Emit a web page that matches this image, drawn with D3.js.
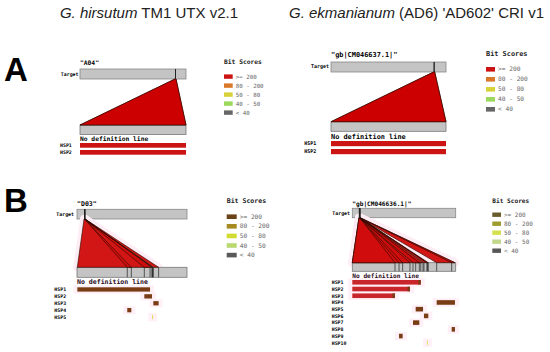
<!DOCTYPE html>
<html>
<head>
<meta charset="utf-8">
<script src="https://cdn.jsdelivr.net/npm/d3@7"></script>
<style>
  body { margin: 0; background: #fff; }
  svg { display: block; }
  .mono { font-family: "DejaVu Sans Mono", monospace; }
</style>
</head>
<body>
<div id="chart"></div>
<script>
// Set up conventions
let width = 550;
let height = 352;

// Titles, panel letters and hit names
let titles = ["G. hirsutum TM1 UTX v2.1", "G. ekmanianum (AD6) 'AD602' CRI v1"];
let letters = ["A", "B"];
let hitNames = ['"A04"', '"gb|CM046637.1|"', '"D03"', '"gb|CM046636.1|"'];

// Legend
let legendTitle = "Bit Scores";
let legendLabels = [">= 200", "80 - 200", "50 - 80", "40 - 50", "< 40"];
let colorsA1 = ["#cc1414", "#da782a", "#d8d23a", "#9cd85c", "#666666"];
let colorsA2 = ["#cc1414", "#da782a", "#d8d23a", "#9cd85c", "#666666"];
let colorsB1 = ["#6a4218", "#a68a22", "#d2dc30", "#b9d870", "#5a5a5a"];
let colorsB2 = ["#6a5a2c", "#9e9c2e", "#d6e04e", "#c2d98c", "#575757"];

// HSPs: query range (q0-q1) and target range (t0-t1), both in % of length; cls = bit score class
let hspsA1 = [
    {q0: 0, q1: 100, t0: 89.6, t1: 90.6, cls: 0},
    {q0: 0, q1: 100, t0: 89.6, t1: 90.6, cls: 0}
];
let hspsA2 = [
    {q0: 0, q1: 100, t0: 89.2, t1: 90.2, cls: 0},
    {q0: 0, q1: 100, t0: 89.2, t1: 90.2, cls: 0}
];
let hspsB1 = [
    {q0: 0.3, q1: 66.4, t0: 6.4, t1: 7.3, cls: 0},
    {q0: 61.2, q1: 68.2, t0: 6.8, t1: 7.3, cls: 0},
    {q0: 69.4, q1: 74.2, t0: 6.9, t1: 7.4, cls: 0},
    {q0: 45.7, q1: 49.4, t0: 6.8, t1: 7.1, cls: 0},
    {q0: 68.4, q1: 68.8, t0: 7.0, t1: 7.1, cls: 2}
];
let hspsB2 = [
    {q0: 0, q1: 66.2, t0: 6.5, t1: 7.4, cls: 0, red: true},
    {q0: 0, q1: 55.8, t0: 6.5, t1: 7.3, cls: 0, red: true},
    {q0: 0, q1: 41.3, t0: 6.5, t1: 7.2, cls: 0, red: true},
    {q0: 81.6, q1: 99.3, t0: 6.9, t1: 7.6, cls: 0},
    {q0: 61.3, q1: 68.4, t0: 6.9, t1: 7.3, cls: 0},
    {q0: 69.3, q1: 73.5, t0: 7.0, t1: 7.3, cls: 0},
    {q0: 58.7, q1: 64.8, t0: 6.9, t1: 7.2, cls: 0},
    {q0: 96.1, q1: 99.3, t0: 7.2, t1: 7.5, cls: 0},
    {q0: 45.2, q1: 48.7, t0: 6.8, t1: 7.1, cls: 0},
    {q0: 72.2, q1: 72.6, t0: 7.1, t1: 7.2, cls: 2}
];

let svg = d3.select("#chart")
    .append("svg")
    .attr("width", width)
    .attr("height", height)

svg.append("rect").attr("width", width).attr("height", height).attr("fill", "#fff")

// Column titles
let titleX = [149, 416.5]
titles.forEach((t, i) => {
    let parts = t.split(" ")
    let txt = svg.append("text")
        .attr("x", titleX[i])
        .attr("y", 18)
        .attr("text-anchor", "middle")
        .style("font-family", "Liberation Sans, Arial, sans-serif")
        .style("font-size", "15px")
        .attr("fill", "#222")
    txt.append("tspan").style("font-style", "italic").text(parts[0] + " " + parts[1])
    txt.append("tspan").text(" " + parts.slice(2).join(" "))
})

// Row letters
let letterY = [81, 212]
letters.forEach((l, i) => {
    svg.append("text")
        .attr("x", 4)
        .attr("y", letterY[i])
        .style("font-family", "Liberation Sans, Arial, sans-serif")
        .style("font-weight", "bold")
        .style("font-size", "33px")
        .attr("fill", "#000")
        .text(l)
})

// Panel layouts
let panels = [
    {hsps: hspsA1, colors: colorsA1, name: hitNames[0], x0: 80, x1: 186, ty: 69, th: 10, qy: 125, qh: 9.5,
     nameY: 65, tgtLabelX: 78.5, tgtLabelY: 76, noDefY: 140.6, rowY: 143, rowH: 4.7, rowStep: 7, hspLabelX: 60,
     legX: 224, legTitleY: 64, legY: 74.4, legStep: 9, swW: 8.7, swH: 4.4, fs: 6.3, lfs: 5.8, hfs: 4.9, halo: false, polyFill: "#cc0000", polyOpacity: 1},
    {hsps: hspsA2, colors: colorsA2, name: hitNames[1], x0: 331, x1: 446, ty: 62, th: 10, qy: 121.7, qh: 9.6,
     nameY: 57.3, tgtLabelX: 329, tgtLabelY: 68, noDefY: 139, rowY: 141, rowH: 5.2, rowStep: 8, hspLabelX: 304.3,
     legX: 486, legTitleY: 56, legY: 67, legStep: 10, swW: 9, swH: 4.6, fs: 6.9, lfs: 6.2, hfs: 5, halo: false, polyFill: "#cc0000", polyOpacity: 1},
    {hsps: hspsB1, colors: colorsB1, name: hitNames[2], x0: 77, x1: 187, ty: 209.3, th: 9.7, qy: 267.3, qh: 10,
     nameY: 205.5, tgtLabelX: 74, tgtLabelY: 215.5, noDefY: 284, rowY: 287.3, rowH: 4.3, rowStep: 6.9, hspLabelX: 54.3,
     legX: 226.7, legTitleY: 203.3, legY: 214.4, legStep: 9.6, swW: 10, swH: 4.6, fs: 6.55, lfs: 6.2, hfs: 4.9, halo: true, polyFill: "#d00c0c", polyOpacity: 0.96},
    {hsps: hspsB2, colors: colorsB2, name: hitNames[3], x0: 352.3, x1: 455.7, ty: 208.3, th: 9.4, qy: 262.7, qh: 8.6,
     nameY: 205.5, tgtLabelX: 350, tgtLabelY: 214.5, noDefY: 278.3, rowY: 280, rowH: 4.6, rowStep: 6.72, hspLabelX: 331.7,
     legX: 492.3, legTitleY: 203, legY: 212.5, legStep: 9, swW: 8.7, swH: 4.4, fs: 6.15, lfs: 6, hfs: 4.9, halo: true, polyFill: "#d00c0c", polyOpacity: 0.96}
]

panels.forEach(p => {
    let g = svg.append("g")

    // scales for target and query sequence positions
    let tScale = d3.scaleLinear().domain([0, 100]).range([p.x0, p.x1])
    let qScale = d3.scaleLinear().domain([0, 100]).range([p.x0, p.x1])

    // hit name
    g.append("text")
        .attr("class", "mono")
        .attr("x", p.x0)
        .attr("y", p.nameY)
        .style("font-size", p.fs + "px")
        .style("font-weight", "bold")
        .attr("fill", "#000")
        .text(p.name)

    // target label
    g.append("text")
        .attr("class", "mono")
        .attr("x", p.tgtLabelX)
        .attr("y", p.tgtLabelY)
        .attr("text-anchor", "end")
        .style("font-size", p.hfs + "px")
        .style("font-weight", "bold")
        .attr("fill", "#000")
        .text("Target")

    // target bar
    g.append("rect")
        .attr("x", p.x0).attr("y", p.ty)
        .attr("width", p.x1 - p.x0).attr("height", p.th)
        .attr("fill", "#c4c4c4")
        .attr("stroke", "#888")
        .attr("stroke-width", 0.8)

    let polyPoints = d => [
        [tScale(d.t0), p.ty + p.th],
        [tScale(d.t1), p.ty + p.th],
        [qScale(d.q1), p.qy],
        [qScale(d.q0), p.qy]
    ].map(pt => pt.join(",")).join(" ")

    // pink halo behind polygons (B panels)
    if (p.halo) {
        g.selectAll(".halo")
            .data(p.hsps)
            .enter()
            .append("polygon")
            .attr("points", polyPoints)
            .attr("fill", "#ffedf6")
            .attr("stroke", "#ffedf6")
            .attr("stroke-width", 8)
            .attr("stroke-linejoin", "round")
    }

    // lower (query) bar
    g.append("rect")
        .attr("x", p.x0).attr("y", p.qy)
        .attr("width", p.x1 - p.x0).attr("height", p.qh)
        .attr("fill", "#c4c4c4")
        .attr("stroke", "#777")
        .attr("stroke-width", 0.8)

    // connecting polygons
    g.selectAll(".poly")
        .data(p.hsps)
        .enter()
        .append("polygon")
        .attr("class", "poly")
        .attr("points", polyPoints)
        .attr("fill", p.polyFill)
        .attr("fill-opacity", p.polyOpacity)
        .attr("stroke", "#2a0c00")
        .attr("stroke-opacity", 0.9)
        .attr("stroke-width", 0.7)

    // hit marks on target bar
    g.selectAll(".tmark")
        .data(p.hsps)
        .enter()
        .append("line")
        .attr("x1", d => tScale((d.t0 + d.t1) / 2))
        .attr("x2", d => tScale((d.t0 + d.t1) / 2))
        .attr("y1", p.ty)
        .attr("y2", p.ty + p.th)
        .attr("stroke", "#222")
        .attr("stroke-width", 0.9)

    // HSP boundaries on query bar
    let bounds = []
    p.hsps.forEach(d => { bounds.push(d.q0); bounds.push(d.q1) })
    bounds = bounds.filter(b => b > 1 && b < 99)
    g.selectAll(".qmark")
        .data(bounds)
        .enter()
        .append("line")
        .attr("x1", d => qScale(d))
        .attr("x2", d => qScale(d))
        .attr("y1", p.qy)
        .attr("y2", p.qy + p.qh)
        .attr("stroke", "#222")
        .attr("stroke-width", 0.7)

    // no definition line
    g.append("text")
        .attr("class", "mono")
        .attr("x", p.x0)
        .attr("y", p.noDefY)
        .style("font-size", p.fs + "px")
        .style("font-weight", "bold")
        .attr("fill", p.halo ? "#2a0818" : "#000")
        .text("No definition line")

    // HSP rows
    let rowY = i => p.rowY + i * p.rowStep

    if (p.halo) {
        g.selectAll(".bhalo")
            .data(p.hsps)
            .enter()
            .append("rect")
            .attr("x", d => qScale(d.q0) - 4)
            .attr("y", (d, i) => rowY(i) - 2)
            .attr("width", d => Math.max(qScale(d.q1) - qScale(d.q0), 0.8) + 8)
            .attr("height", p.rowH + 4)
            .attr("fill", "#fff0f7")
    }

    g.selectAll(".hsp")
        .data(p.hsps)
        .enter()
        .append("rect")
        .attr("x", d => qScale(d.q0))
        .attr("y", (d, i) => rowY(i))
        .attr("width", d => Math.max(qScale(d.q1) - qScale(d.q0), 0.8))
        .attr("height", p.rowH)
        .attr("fill", d => d.red ? "#c8262a" : (p.halo && d.cls === 0 ? "#7a3c14" : p.colors[d.cls]))

    // brown tip on red bars
    g.selectAll(".tip")
        .data(p.hsps.filter(d => d.red))
        .enter()
        .append("rect")
        .attr("x", d => qScale(d.q1) - 2.5)
        .attr("y", d => rowY(p.hsps.indexOf(d)))
        .attr("width", 2.5)
        .attr("height", p.rowH)
        .attr("fill", "#7a3c14")

    g.selectAll(".hlabel")
        .data(p.hsps)
        .enter()
        .append("text")
        .attr("class", "mono")
        .attr("x", p.hspLabelX)
        .attr("y", (d, i) => rowY(i) + p.rowH / 2 + 1.8)
        .style("font-size", p.hfs + "px")
        .style("font-weight", "bold")
        .attr("fill", "#000")
        .text((d, i) => "HSP" + (i + 1))

    // legend
    g.append("text")
        .attr("class", "mono")
        .attr("x", p.legX)
        .attr("y", p.legTitleY)
        .style("font-size", p.fs + "px")
        .style("font-weight", "bold")
        .attr("fill", "#222")
        .text(legendTitle)

    let leg = g.selectAll(".leg")
        .data(legendLabels)
        .enter()
        .append("g")
        .attr("transform", (d, i) => "translate(" + p.legX + "," + (p.legY + i * p.legStep) + ")")

    leg.append("rect")
        .attr("width", p.swW)
        .attr("height", p.swH)
        .attr("fill", (d, i) => p.colors[i])

    leg.append("text")
        .attr("class", "mono")
        .attr("x", p.swW + 3)
        .attr("y", p.swH / 2 + 2)
        .style("font-size", p.lfs + "px")
        .attr("fill", "#666")
        .text(d => d)
})
</script>
</body>
</html>
